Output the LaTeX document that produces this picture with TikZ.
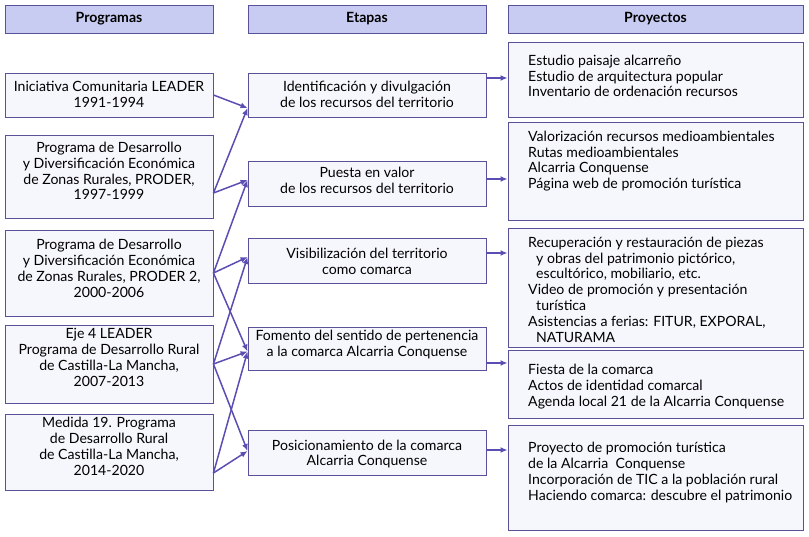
\documentclass[tikz,border=0pt]{standalone}
\usepackage{fontspec}
\setmainfont{Lato}
\usetikzlibrary{arrows.meta}
\definecolor{tblframe}{HTML}{5A5299}
\definecolor{tblarrow}{HTML}{5A4EB2}
\definecolor{tblhead}{HTML}{C9CCF2}
\definecolor{tblbox}{HTML}{F6F7FC}

\begin{document}
\begin{tikzpicture}[x=1pt, y=-1pt,
    box/.style={draw=tblframe, fill=tblbox, line width=0.9pt, inner sep=0pt},
    head/.style={box, fill=tblhead, minimum height=28},
    prog/.style={box, minimum width=208},
    etapa/.style={box, minimum width=238},
    proy/.style={box, minimum width=295},
    txt/.style={font=\fontsize{14.1}{15.8}\selectfont, align=center, inner sep=0pt},
    ltxt/.style={txt, align=left, anchor=west},
    arrow/.style={draw=tblarrow, line width=1.5pt, -{Latex[length=7pt,width=6pt]}}
  ]
  \useasboundingbox (0,0) rectangle (809,537);

  % Headers
  \node[head, minimum width=208] (hp) at (109,19) {};
  \node[head, minimum width=238] (he) at (367,19) {};
  \node[head, minimum width=295] (hr) at (655.5,19) {};
  \node[txt, font=\fontsize{14.1}{15.8}\selectfont\bfseries] (hpt) at (hp) {Programas};
  \node[txt, font=\fontsize{14.1}{15.8}\selectfont\bfseries] (het) at (he) {Etapas};
  \node[txt, font=\fontsize{14.1}{15.8}\selectfont\bfseries] (hrt) at (hr) {Proyectos};

  % Programas
  \node[prog, minimum height=44] (p1) at (109,95) {};
  \node[prog, minimum height=83] (p2) at (109,176.5) {};
  \node[prog, minimum height=86] (p3) at (109,273) {};
  \node[prog, minimum height=78] (p4) at (109,364) {};
  \node[prog, minimum height=76] (p5) at (109,452) {};
  \node[txt] (p1t) at (109,94) {Iniciativa Comunitaria LEADER\\1991-1994};
  \node[txt] (p2t) at (109,171) {Programa de Desarrollo\\y Diversificación Económica\\de Zonas Rurales, PRODER,\\1997-1999};
  \node[txt] (p3t) at (109,268.5) {Programa de Desarrollo\\y Diversificación Económica\\de Zonas Rurales, PRODER 2,\\2000-2006};
  \node[txt] (p4t) at (109,357.5) {Eje 4 LEADER\\Programa de Desarrollo Rural\\de Castilla-La Mancha,\\2007-2013};
  \node[txt] (p5t) at (109,446.5) {Medida 19. Programa\\de Desarrollo Rural\\de Castilla-La Mancha,\\2014-2020};

  % Etapas
  \node[etapa, minimum height=44] (e1) at (367,95) {};
  \node[etapa, minimum height=45] (e2) at (367,183.5) {};
  \node[etapa, minimum height=45] (e3) at (367,260.5) {};
  \node[etapa, minimum height=43] (e4) at (367,348.5) {};
  \node[etapa, minimum height=45] (e5) at (367,452.5) {};
  \node[txt] (e1t) at (367,94) {Identificación y divulgación\\de los recursos del territorio};
  \node[txt] (e2t) at (367,180.5) {Puesta en valor\\de los recursos del territorio};
  \node[txt] (e3t) at (367,261.5) {Visibilización del territorio\\como comarca};
  \node[txt] (e4t) at (367,344.5) {Fomento del sentido de pertenencia\\a la comarca Alcarria Conquense};
  \node[txt] (e5t) at (367,454) {Posicionamiento de la comarca\\Alcarria Conquense};

  % Proyectos
  \node[proy, minimum height=75] (r1) at (655.5,79.5) {};
  \node[proy, minimum height=98] (r2) at (655.5,171) {};
  \node[proy, minimum height=119] (r3) at (655.5,287.5) {};
  \node[proy, minimum height=68] (r4) at (655.5,384) {};
  \node[proy, minimum height=105] (r5) at (655.5,477.5) {};
  \node[ltxt] (r1t) at (528,76) {Estudio paisaje alcarreño\\Estudio de arquitectura popular\\Inventario de ordenación recursos};
  \node[ltxt] (r2t) at (528,161) {Valorización recursos medioambientales\\Rutas medioambientales\\Alcarria Conquense\\Página web de promoción turística};
  \node[ltxt] (r3t) at (528,289.5) {Recuperación y restauración de piezas\\\hspace*{8pt}y obras del patrimonio pictórico,\\\hspace*{8pt}escultórico, mobiliario, etc.\\Video de promoción y presentación\\\hspace*{8pt}turística\\Asistencias a ferias: FITUR, EXPORAL,\\\hspace*{8pt}NATURAMA};
  \node[ltxt] (r4t) at (528,386.5) {Fiesta de la comarca\\Actos de identidad comarcal\\Agenda local 21 de la Alcarria Conquense};
  \node[ltxt] (r5t) at (528,472.5) {Proyecto de promoción turística\\de la Alcarria\ \ Conquense\\Incorporación de TIC a la población rural\\Haciendo comarca: descubre el patrimonio};

  % Connection points
  \coordinate (p1o) at (p1.east);
  \coordinate (p2o) at ([yshift=-16.5]p2.east);
  \coordinate (p3o) at (p3.east);
  \coordinate (p4o) at (p4.east);
  \coordinate (p5o) at ([yshift=-21]p5.east);
  \coordinate (e1i) at ([yshift=-13]e1.west);
  \coordinate (e2i) at ([yshift=3.5]e2.west);
  \coordinate (e3i) at ([yshift=3.5]e3.west);
  \coordinate (e4i) at ([yshift=-3]e4.west);
  \coordinate (e5i) at ([yshift=1.5]e5.west);
  \coordinate (e1o) at ([yshift=17]e1.east);
  \coordinate (e2o) at ([yshift=4.5]e2.east);
  \coordinate (e3o) at ([yshift=7.5]e3.east);
  \coordinate (e4o) at ([yshift=-14.5]e4.east);
  \coordinate (e5o) at ([yshift=2.5]e5.east);

  % Programas -> Etapas
  \foreach \a/\b in {p1/e1, p2/e1, p2/e2, p3/e2, p3/e3, p3/e4,
                     p4/e3, p4/e4, p4/e5, p5/e4, p5/e5}
    \draw[arrow] (\a o) -- (\b i);

  % Etapas -> Proyectos
  \foreach \e/\r in {e1/r1, e2/r2, e3/r3, e4/r4, e5/r5}
    \draw[arrow] (\e o) -- (\e o -| \r.west);
\end{tikzpicture}
\end{document}
